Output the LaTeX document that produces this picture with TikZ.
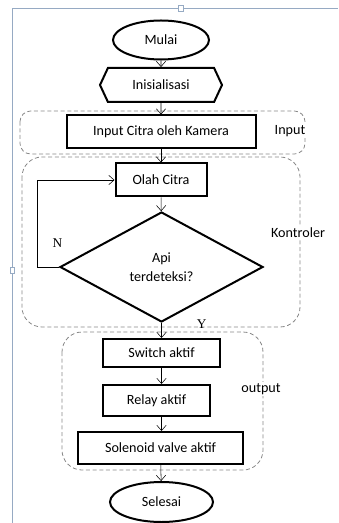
\documentclass[tikz,border=0pt]{standalone}
\usepackage{fontspec}
\setmainfont{Carlito}
\newfontfamily\hurufyn{Liberation Serif}
\usetikzlibrary{shapes.geometric,shapes.symbols,arrows.meta}
\definecolor{tepi}{RGB}{150,170,195}
\definecolor{garis}{RGB}{135,135,135}

\tikzset{
  proses/.style={draw, line width=1.5pt, rectangle, inner sep=0pt, minimum height=24.75pt},
  ujung/.style={draw, line width=1.5pt, ellipse, inner sep=0pt},
  persiapan/.style={draw, line width=1.5pt, signal, signal to=west and east, signal pointer angle=130, inner sep=0pt},
  keputusan/.style={draw, line width=1.5pt, diamond, inner sep=0pt, align=center, font=\fontsize{10.6}{14.2}\selectfont},
  grup/.style={draw=garis, line width=0.6pt, dash pattern=on 3pt off 2pt, rounded corners=15pt},
  ket/.style={fill=white, inner sep=1pt}
}

\begin{document}
\begin{tikzpicture}[x=0.75pt, y=-0.75pt, >={Straight Barb[length=4pt,width=7pt]}, font=\fontsize{10.6}{12.5}\selectfont]
  \useasboundingbox (0,0) rectangle (338,523);

  % tepi halaman
  \draw[tepi, line width=0.6pt] (12,523) -- (12,8) -- (338,8);
  \draw[tepi, fill=white, line width=0.5pt] (178,5) rectangle (183,11);
  \draw[tepi, fill=white, line width=0.5pt] (10,267) rectangle (14,273);

  % grup
  \draw[grup, rounded corners=8pt] (20,111) rectangle (305,154);
  \draw[grup] (22,157) rectangle (300,327);
  \draw[grup] (62,332) rectangle (263,470);

  \node[ujung, minimum width=72pt, minimum height=29.25pt] (mulai) at (161,40) {Mulai};
  \node[persiapan, minimum width=91.5pt, minimum height=25.5pt] (init) at (161,85) {Inisialisasi};
  \node[proses, minimum width=141.75pt] (input) at (161,132) {Input Citra oleh Kamera};
  \node[proses, minimum width=68.25pt] (olah) at (161,180) {Olah Citra};
  \node[keputusan, minimum width=152.25pt, minimum height=82.5pt] (api) at (161.5,267) {Api\\terdeteksi?};
  \node[proses, minimum width=87.75pt, minimum height=21pt] (switch) at (161.5,353) {Switch aktif};
  \node[proses, minimum width=80.25pt, minimum height=23.25pt] (relay) at (156.5,400.5) {Relay aktif};
  \node[proses, minimum width=123.75pt, minimum height=24pt] (solenoid) at (160.5,448) {Solenoid valve aktif};
  \node[ujung, minimum width=77.25pt, minimum height=30pt] (selesai) at (161.5,502) {Selesai};

  \node[ket] (kinput) at (290,131) {Input};
  \node[ket] (kkontrol) at (298,233) {Kontroler};
  \node[ket] (koutput) at (261,389) {output};

  \draw[->] (mulai) to (init);
  \draw[->] (init) to (input);
  \draw[->] (input) to (olah);
  \draw[->] (olah) to (api);
  \draw[->] (api) to node[pos=0.05, right, xshift=23pt, font=\hurufyn\fontsize{10}{12}\selectfont] {Y} (switch);
  \draw[->] (api.west) -- node[above=11pt, xshift=7pt, font=\hurufyn\fontsize{10}{12}\selectfont] {N} ++(-22,0) |- (olah.west);
  \draw[->] (switch) -- (switch.south |- relay.north);
  \draw[->] (relay.south -| switch) -- (switch |- solenoid.north);
  \draw[->] (solenoid) to (selesai);
\end{tikzpicture}
\end{document}
